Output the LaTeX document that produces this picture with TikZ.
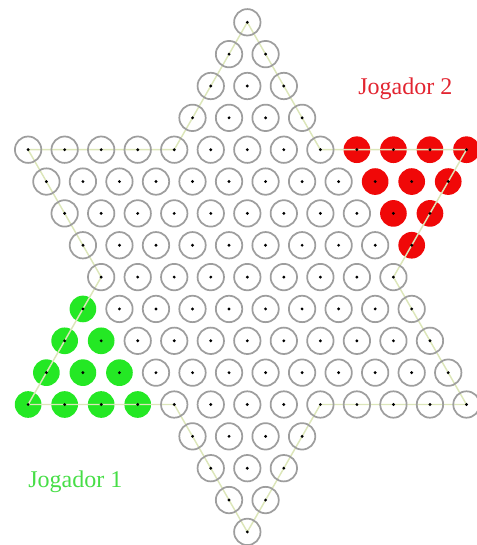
\documentclass[tikz,border=0pt]{standalone}
\usepackage{fontspec}
\setmainfont{Liberation Serif}
\definecolor{ringgray}{RGB}{158,158,158}
\definecolor{linecol}{RGB}{220,230,185}
\definecolor{piecered}{RGB}{240,8,8}
\definecolor{piecegreen}{RGB}{36,232,36}
\definecolor{labred}{RGB}{226,36,48}
\definecolor{labgreen}{RGB}{70,222,70}
\tikzset{
  ring/.style={draw=ringgray, line width=1.3pt},
  outline/.style={draw=linecol, line width=1.1pt, line join=round},
  lab/.style={inner sep=0pt, anchor=base west, font=\fontsize{18}{21}\selectfont}
}
\def\rows{0/1,1/2,2/3,3/4,4/13,5/12,6/11,7/10,8/9,9/10,10/11,11/12,12/13,13/4,14/3,15/2,16/1}
\begin{document}
\begin{tikzpicture}[x=0.75pt,y=-0.75pt]
\useasboundingbox (0,0) rectangle (476,545);
% hole positions
\foreach \r/\n in \rows {
  \pgfmathtruncatemacro\last{\n-1}
  \foreach \i in {0,...,\last} {
    \pgfmathsetmacro\xx{247.3+(\i-\last/2)*36.53}
    \pgfmathsetmacro\yy{22.3+\r*31.85}
    \coordinate (h-\r-\i) at (\xx,\yy);
  }
}
% pieces
\foreach \r/\n in \rows {
  \pgfmathtruncatemacro\last{\n-1}
  \pgfmathtruncatemacro\glim{\r-9}
  \foreach \i in {0,...,\last} {
    \ifnum\i>8 \ifnum\r<8 \fill[piecered] (h-\r-\i) circle (10pt); \fi\fi
    \ifnum\r>8 \ifnum\r<13 \ifnum\i>\glim\relax\else \fill[piecegreen] (h-\r-\i) circle (10pt); \fi\fi\fi
  }
}
% star outline
\draw[outline] (h-0-0) -- (h-4-4) -- (h-4-0) -- (h-8-0) -- (h-12-0) -- (h-12-4)
  -- (h-16-0) -- (h-12-8) -- (h-12-12) -- (h-8-8) -- (h-4-12) -- (h-4-8) -- cycle;
% rings and dots
\foreach \r/\n in \rows {
  \pgfmathtruncatemacro\last{\n-1}
  \pgfmathtruncatemacro\glim{\r-9}
  \foreach \i in {0,...,\last} {
    \def\colored{0}
    \ifnum\i>8 \ifnum\r<8 \def\colored{1}\fi\fi
    \ifnum\r>8 \ifnum\r<13 \ifnum\i>\glim\relax\else \def\colored{1}\fi\fi\fi
    \if0\colored \draw[ring] (h-\r-\i) circle (9.9pt); \fi
    \fill[black] (h-\r-\i) circle (1.2pt);
  }
}
% labels
\node[lab, text=labred] (j2) at (358,94.5) {Jogador 2};
\node[lab, text=labgreen] (j1) at (28,487) {Jogador 1};
\end{tikzpicture}
\end{document}
